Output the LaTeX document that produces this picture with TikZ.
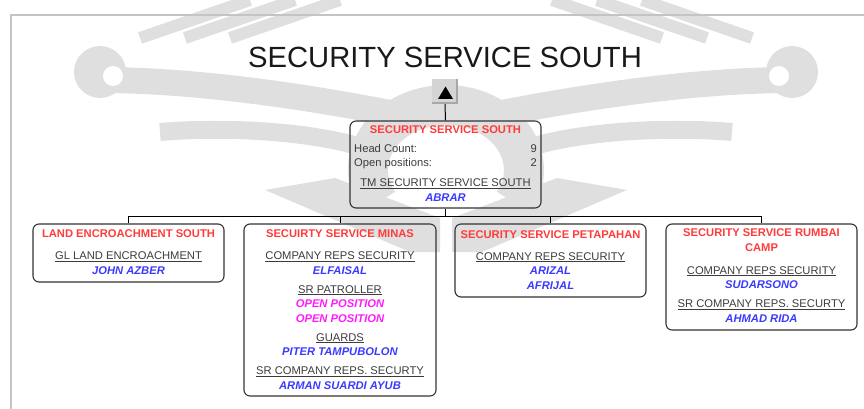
\documentclass[tikz,border=0pt]{standalone}
\usepackage{fontspec}
\setmainfont{Liberation Sans}
\definecolor{ttlred}{HTML}{FF3B3B}
\definecolor{nmblue}{HTML}{3A3AFF}
\definecolor{opmag}{HTML}{FF1AFF}
\definecolor{hdgray}{HTML}{3C3C3C}
\definecolor{wmgray}{HTML}{DFDFDF}
\definecolor{framegray}{HTML}{C4C4C4}
\definecolor{btnfill}{HTML}{D4D4D4}
\definecolor{btnshade}{HTML}{A8A8A8}
\newcommand\boxttl[1]{\textcolor{ttlred}{\bfseries #1}}
\newcommand\boxhd[1]{\textcolor{hdgray}{\underline{#1}}}
\newcommand\boxnm[1]{\textcolor{nmblue}{\bfseries\itshape #1}}
\newcommand\boxop[1]{\textcolor{opmag}{\bfseries\itshape #1}}
\begin{document}
\begin{tikzpicture}[x=1pt,y=-1pt,
  orgbox/.style={draw=black!80, line width=1.1pt, rounded corners=6pt, inner sep=0},
  txt/.style={font=\fontsize{11.2}{14.5}\selectfont, align=center, inner sep=0, anchor=base},
  conn/.style={draw=black, line width=1pt},
  wm/.style={wmgray}]
\useasboundingbox (0,0) rectangle (864,409);
% faint watermark
\begin{scope}
  \draw[wm, line width=40pt] (513.5,202.5) arc[start angle=30, end angle=-210, x radius=78, y radius=65];
  \fill[wm] (265,190) -- (335,178) -- (440,218) -- (440,252) -- (410,252) -- cycle;
  \fill[wm] (627,190) -- (557,178) -- (452,218) -- (452,252) -- (482,252) -- cycle;
  \fill[wm] (100,72) circle[radius=26];
  \fill[wm] (792,72) circle[radius=26];
  \draw[wm, line width=26pt] (100,80) .. controls (190,80) and (300,95) .. (400,115);
  \draw[wm, line width=26pt] (792,80) .. controls (702,80) and (592,95) .. (492,115);
  \draw[wm, line width=18pt] (160,132) .. controls (230,126) and (320,132) .. (370,150);
  \draw[wm, line width=18pt] (732,132) .. controls (662,126) and (572,132) .. (522,150);
  \fill[white] (113,76) circle[radius=10];
  \fill[white] (779,76) circle[radius=10];
  \draw[wm, line width=12pt] (140,38) -- (250,0);
  \draw[wm, line width=12pt] (185,38) -- (295,0);
  \draw[wm, line width=12pt] (230,38) -- (340,0);
  \draw[wm, line width=12pt] (752,38) -- (642,0);
  \draw[wm, line width=12pt] (707,38) -- (597,0);
  \draw[wm, line width=12pt] (662,38) -- (552,0);
\end{scope}
% frame
\draw[framegray, line width=2pt] (11,409) -- (11,15) -- (864,15);
% title
\node (title) [font=\fontsize{29.2}{31}\selectfont, anchor=base, text=black!90, inner sep=0] at (445,67.5) {SECURITY SERVICE SOUTH};
% up button
\node (up) [fill=btnfill, minimum width=26, minimum height=25, inner sep=0] at (445,91.5) {};
\fill[btnshade] (up.north east) ++(-2,0) rectangle (up.south east);
\fill[btnshade] (up.south west) rectangle ++(26,-2);
\fill[black] (438,99) -- (453,99) -- (445.5,86.5) -- cycle;
% boxes
\node (top) [orgbox, minimum width=191, minimum height=87] at (445.5,164.5) {};
\node (land) [orgbox, minimum width=191, minimum height=58] at (128.5,253) {};
\node (minas) [orgbox, minimum width=192, minimum height=172] at (340,310) {};
\node (peta) [orgbox, minimum width=191, minimum height=73] at (550.5,260.5) {};
\node (rumbai) [orgbox, minimum width=191, minimum height=106] at (761.5,277) {};
% connectors
\coordinate (bus) at (445.5,216);
\draw[conn] (up.south) -- (top.north);
\draw[conn] (top.south) -- (bus);
\draw[conn] (land.north) -- (land.north |- bus) -- (rumbai.north |- bus) -- (rumbai.north);
\draw[conn] (minas.north) -- (minas.north |- bus);
\draw[conn] (peta.north) -- (peta.north |- bus);
% top box text (anchor base = baseline of last line)
\node (toptitle) [txt] at (445.5,134) {\boxttl{SECURITY SERVICE SOUTH}};
\node (hclbl) [txt, anchor=base west] at (354,152) {\textcolor{hdgray}{Head Count:}};
\node (hcval) [txt, anchor=base east] at (537,152) {\textcolor{hdgray}{9}};
\node (oplbl) [txt, anchor=base west] at (354,166) {\textcolor{hdgray}{Open positions:}};
\node (opval) [txt, anchor=base east] at (537,166) {\textcolor{hdgray}{2}};
\node (toptm) [txt] at (445.5,201) {\boxhd{TM SECURITY SERVICE SOUTH}\\\boxnm{ABRAR}};
% child texts
\node (landtxt) [txt] at (128.5,274) {\boxttl{LAND ENCROACHMENT SOUTH}\\[7.5pt]
  \boxhd{GL LAND ENCROACHMENT}\\\boxnm{JOHN AZBER}};
\node (minastxt) [txt] at (340,389) {\boxttl{SECUIRTY SERVICE MINAS}\\[7.5pt]
  \boxhd{COMPANY REPS SECURITY}\\\boxnm{ELFAISAL}\\[4.5pt]
  \boxhd{SR PATROLLER}\\\boxop{OPEN POSITION}\\\boxop{OPEN POSITION}\\[4.5pt]
  \boxhd{GUARDS}\\\boxnm{PITER TAMPUBOLON}\\[4.5pt]
  \boxhd{SR COMPANY REPS. SECURTY}\\\boxnm{ARMAN SUARDI AYUB}};
\node (petatxt) [txt] at (550.5,289) {\boxttl{SECURITY SERVICE PETAPAHAN}\\[7.5pt]
  \boxhd{COMPANY REPS SECURITY}\\\boxnm{ARIZAL}\\\boxnm{AFRIJAL}};
\node (rumbaitxt) [txt] at (761.5,322) {\boxttl{SECURITY SERVICE RUMBAI}\\\boxttl{CAMP}\\[8.5pt]
  \boxhd{COMPANY REPS SECURITY}\\\boxnm{SUDARSONO}\\[4.5pt]
  \boxhd{SR COMPANY REPS. SECURTY}\\\boxnm{AHMAD RIDA}};
\end{tikzpicture}
\end{document}
